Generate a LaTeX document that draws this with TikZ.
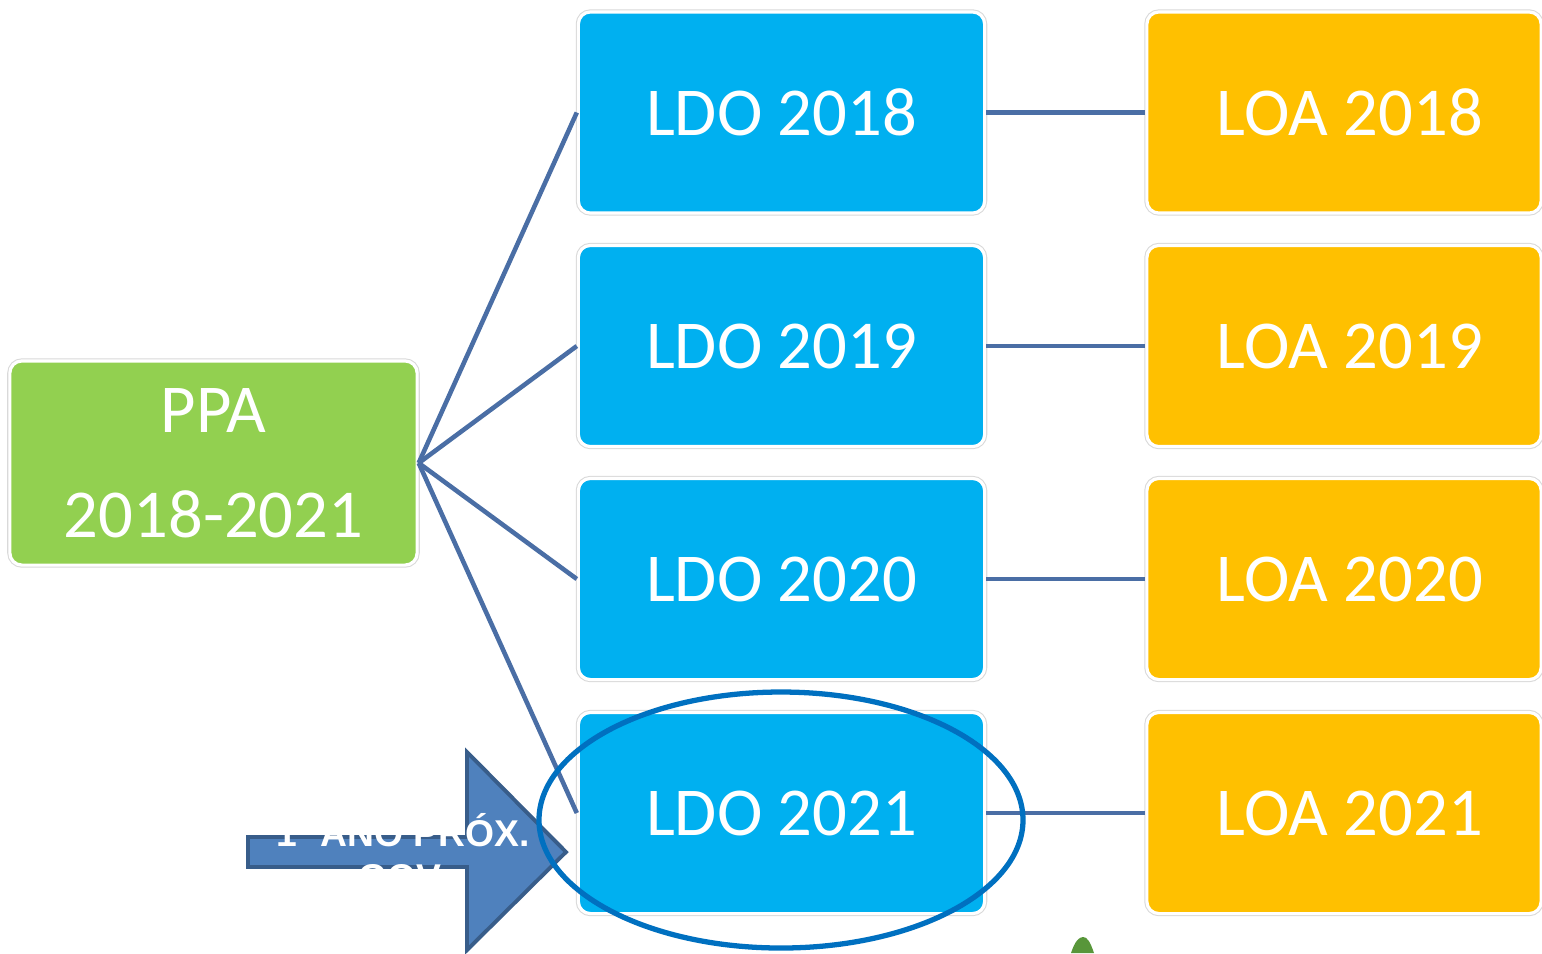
\documentclass[tikz,border=0pt]{standalone}
\usepackage{fontspec}
\setmainfont{Carlito}
\newfontfamily\arrowfont{Liberation Sans}
\usetikzlibrary{positioning}
\definecolor{ppagreen}{RGB}{146,208,80}
\definecolor{ldoblue}{RGB}{0,176,240}
\definecolor{loagold}{RGB}{255,192,0}
\definecolor{linkblue}{RGB}{74,110,165}
\definecolor{ringblue}{RGB}{0,112,192}
\definecolor{arrowfill}{RGB}{79,129,189}
\definecolor{arrowedge}{RGB}{56,93,138}
\definecolor{leafgreen}{RGB}{88,150,58}
\tikzset{
    box/.style = {rectangle, rounded corners=0.12cm, draw=white, line width=0.9pt, preaction={draw=black!15, line width=1.5pt}, text=white, inner sep=0pt, minimum height=2.01cm, font=\fontsize{19.5}{30}\selectfont},
    ppabox/.style = {box, fill=ppagreen, minimum width=4.07cm, minimum height=2.04cm, align=center},
    ldobox/.style = {box, fill=ldoblue, minimum width=4.06cm},
    loabox/.style = {box, fill=loagold, minimum width=3.94cm},
    edgen/.style = {line width=1.3pt, draw=linkblue},
    ringn/.style = {line width=1.5pt, draw=ringblue},
    arrown/.style = {fill=arrowfill, draw=arrowedge, line width=1.1pt, line join=miter},
    arrowtext/.style = {text=white, align=center, font=\arrowfont\bfseries\fontsize{10.6}{12.6}\selectfont}
}
\begin{document}
\begin{tikzpicture}[x=0.01cm,y=-0.01cm]
\path[use as bounding box] (0,0) rectangle (1542,953);
%
\node[ppabox] at (213.5,463) (ppa) {PPA\\2018-2021};
%
\node[ldobox] at (781.5,112.5) (ldo18) {LDO 2018};
\node[ldobox] at (781.5,346) (ldo19) {LDO 2019};
\node[ldobox] at (781.5,579) (ldo20) {LDO 2020};
\node[ldobox] at (781.5,813) (ldo21) {LDO 2021};
%
\node[loabox] at (1344,112.5) (loa18) {\hspace*{3.4pt}LOA 2018};
\node[loabox] at (1344,346) (loa19) {\hspace*{3.4pt}LOA 2019};
\node[loabox] at (1344,579) (loa20) {\hspace*{3.4pt}LOA 2020};
\node[loabox] at (1344,813) (loa21) {\hspace*{3.4pt}LOA 2021};
%
\draw[edgen] (ppa.east) edge (ldo18.west);
\draw[edgen] (ppa.east) edge (ldo19.west);
\draw[edgen] (ppa.east) edge (ldo20.west);
\draw[edgen] (ppa.east) edge (ldo21.west);
\draw[edgen] (ldo18.east) edge (loa18.west);
\draw[edgen] (ldo19.east) edge (loa19.west);
\draw[edgen] (ldo20.east) edge (loa20.west);
\draw[edgen] (ldo21.east) edge (loa21.west);
%
\draw[arrown] (248,837) -- (467,837) -- (467,752) -- (566,852) -- (467,950) -- (467,867) -- (248,867) -- cycle;
\node[arrowtext] at (403,852) (next) {1º ANO PRÓX.\\GOV.};
%
\draw[ringn] (781,820) ellipse [x radius=242, y radius=128];
%
\fill[leafgreen] (1071,953) .. controls (1075,941) and (1079,937) .. (1083,937) .. controls (1087,937) and (1090,941) .. (1094,953) -- cycle;

\end{tikzpicture}
\end{document}
